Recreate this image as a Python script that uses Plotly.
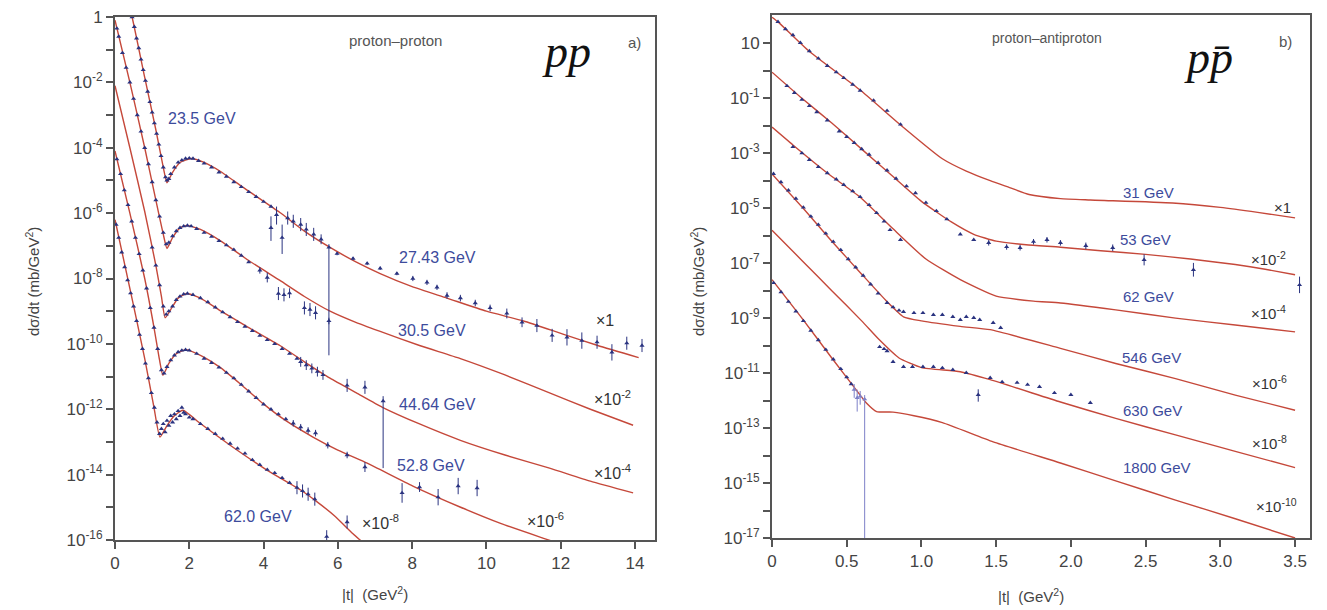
import plotly.graph_objects as go

# ================= DATA (|t| in GeV^2, values are log10 of dσ/dt) =================
# ---- Panel a) proton-proton : model curves ----
pp1_mod_t = [0, 0.2, 0.46, 0.8, 1.1, 1.3, 1.4, 1.55, 1.75, 2.05, 2.4, 2.83, 3.5, 4.44, 5.1, 5.79, 6.5, 7.14, 8.0, 8.94, 10.0, 11.0, 12.06, 13.0, 14.1]
pp1_mod_lg = [1.9, 1.1, 0.0, -1.85, -3.45, -4.6, -5.07, -4.75, -4.45, -4.33, -4.45, -4.72, -5.25, -5.98, -6.55, -7.05, -7.5, -7.85, -8.25, -8.6, -9.0, -9.3, -9.7, -10.05, -10.42]
pp2_mod_t = [0, 0.4, 0.8, 1.1, 1.3, 1.4, 1.55, 1.75, 1.95, 2.3, 2.83, 3.6, 4.44, 5.1, 5.79, 6.5, 7.14, 8.2, 9.3, 10.5, 11.7, 12.8, 13.95]
pp2_mod_lg = [-0.1, -2.0, -4.0, -5.6, -6.65, -7.08, -6.75, -6.45, -6.38, -6.5, -6.84, -7.45, -8.06, -8.55, -9.0, -9.35, -9.62, -10.05, -10.45, -10.95, -11.5, -12.0, -12.49]
pp3_mod_t = [0, 0.4, 0.8, 1.1, 1.25, 1.35, 1.5, 1.7, 1.94, 2.3, 2.83, 3.6, 4.44, 5.1, 5.79, 6.5, 7.2, 8.2, 9.3, 10.5, 11.7, 12.8, 13.95]
pp3_mod_lg = [-2.1, -4.0, -5.95, -7.6, -8.55, -9.2, -8.95, -8.6, -8.46, -8.6, -8.98, -9.5, -10.05, -10.55, -11.05, -11.5, -11.94, -12.45, -12.95, -13.4, -13.8, -14.2, -14.56]
pp4_mod_t = [0, 0.4, 0.8, 1.05, 1.2, 1.29, 1.45, 1.65, 1.9, 2.3, 2.83, 3.4, 3.98, 4.6, 5.33, 6.0, 6.79, 8.02, 9.29, 10.4, 11.52, 12.2]
pp4_mod_lg = [-4.1, -6.0, -8.0, -9.5, -10.5, -10.96, -10.6, -10.3, -10.18, -10.35, -10.72, -11.25, -11.82, -12.35, -12.85, -13.25, -13.65, -14.35, -14.99, -15.5, -15.94, -16.2]
pp5_mod_t = [0, 0.4, 0.8, 1.05, 1.21, 1.4, 1.6, 1.83, 2.29, 3.1, 4.09, 5.0, 5.38, 5.9, 6.4, 6.8]
pp5_mod_lg = [-6.2, -8.3, -10.45, -11.95, -12.85, -12.5, -12.2, -12.03, -12.43, -13.1, -13.86, -14.47, -14.78, -15.25, -15.8, -16.2]

# ---- Panel a) data, dense parts ----
pp1_dat_t = [0.46, 0.52, 0.58, 0.64, 0.7, 0.76, 0.82, 0.88, 0.94, 1.0, 1.06, 1.12, 1.18, 1.24, 1.3, 1.36, 1.4, 1.45, 1.5, 1.6, 1.7, 1.8, 1.9, 2.0, 2.1, 2.25, 2.4, 2.6, 2.8, 3.0, 3.2, 3.4, 3.6, 3.8, 4.0, 4.2]
pp1_dat_lg = [0.0, -0.3, -0.65, -0.95, -1.3, -1.62, -1.95, -2.28, -2.6, -2.92, -3.25, -3.57, -3.9, -4.25, -4.6, -4.9, -5.0, -4.95, -4.8, -4.6, -4.45, -4.38, -4.33, -4.32, -4.33, -4.4, -4.48, -4.6, -4.75, -4.88, -5.05, -5.2, -5.35, -5.5, -5.65, -5.8]
pp2_dat_t = [0.05, 0.1, 0.2, 0.3, 0.4, 0.5, 0.6, 0.7, 0.8, 0.9, 1.0, 1.1, 1.2, 1.3, 1.38, 1.45, 1.55, 1.65, 1.75, 1.85, 1.95, 2.05, 2.2, 2.4, 2.6, 2.8, 3.0, 3.2, 3.4, 3.6]
pp2_dat_lg = [-0.35, -0.6, -1.1, -1.55, -2.0, -2.5, -3.0, -3.5, -4.0, -4.5, -5.05, -5.6, -6.1, -6.6, -6.95, -6.9, -6.7, -6.55, -6.45, -6.4, -6.38, -6.4, -6.48, -6.6, -6.72, -6.85, -6.98, -7.12, -7.3, -7.5]
pp3_dat_t = [1.0, 1.1, 1.2, 1.3, 1.38, 1.45, 1.55, 1.65, 1.75, 1.85, 1.95, 2.1, 2.3, 2.5, 2.7, 2.9, 3.1, 3.3, 3.5, 3.7, 3.9, 4.1, 4.3, 4.5, 4.7, 4.9]
pp3_dat_lg = [-7.05, -7.6, -8.2, -8.85, -9.1, -9.0, -8.85, -8.65, -8.55, -8.48, -8.46, -8.5, -8.6, -8.72, -8.88, -9.03, -9.18, -9.33, -9.47, -9.6, -9.75, -9.88, -10.0, -10.15, -10.3, -10.45]
pp4_dat_t = [0.05, 0.15, 0.25, 0.35, 0.45, 0.55, 0.65, 0.75, 0.85, 0.95, 1.05, 1.15, 1.25, 1.32, 1.4, 1.5, 1.6, 1.7, 1.8, 1.9, 2.0, 2.2, 2.4, 2.6, 2.8, 3.0, 3.2, 3.4, 3.6, 3.8, 4.0, 4.2, 4.4, 4.6]
pp4_dat_lg = [-4.35, -4.8, -5.3, -5.75, -6.25, -6.75, -7.25, -7.75, -8.3, -8.9, -9.5, -10.15, -10.8, -10.9, -10.7, -10.5, -10.35, -10.25, -10.2, -10.18, -10.2, -10.3, -10.45, -10.58, -10.72, -10.88, -11.05, -11.25, -11.45, -11.65, -11.85, -12.0, -12.15, -12.3]
pp5_dat_t = [0.03, 0.1, 0.18, 0.26, 0.34, 0.42, 0.5, 0.58, 0.66, 0.74, 0.82, 0.9, 0.98, 1.06, 1.13, 1.2, 1.25, 1.3, 1.35, 1.4, 1.45, 1.5, 1.55, 1.6, 1.65, 1.7, 1.75, 1.8, 1.85, 1.9, 2.0, 2.1, 2.3, 2.5, 2.7, 2.9, 3.1, 3.3, 3.5, 3.7, 3.9, 4.1, 4.3, 4.5, 4.7]
pp5_dat_lg = [-6.35, -6.75, -7.2, -7.65, -8.05, -8.45, -8.85, -9.3, -9.72, -10.15, -10.6, -11.05, -11.5, -11.95, -12.4, -12.75, -12.6, -12.45, -12.7, -12.35, -12.5, -12.2, -12.4, -12.15, -12.3, -12.05, -12.2, -11.95, -12.1, -12.15, -12.25, -12.3, -12.45, -12.6, -12.75, -12.9, -13.05, -13.2, -13.35, -13.55, -13.7, -13.85, -13.95, -14.1, -14.25]

# ---- Panel a) data with error bars (half-lengths in decades) ----
pp1_err_t = [4.2, 4.35, 4.5, 4.65, 4.8, 5.0, 5.15, 5.35, 5.55, 5.76, 5.98, 6.41, 6.79, 7.14, 7.59, 8.02, 8.4, 8.67, 8.94, 9.3, 9.7, 10.1, 10.55, 10.96, 11.36, 11.77, 12.17, 12.57, 12.98, 13.38, 13.78, 14.19]
pp1_err_lg = [-6.45, -6.05, -6.75, -6.15, -6.25, -6.35, -6.5, -6.65, -6.8, -7.05, -7.24, -7.39, -7.54, -7.69, -7.85, -8.0, -8.12, -8.27, -8.52, -8.6, -8.75, -8.9, -9.07, -9.34, -9.44, -9.74, -9.8, -9.9, -9.95, -10.26, -9.98, -10.05]
pp1_err_up = [0.35, 0.25, 0.4, 0.2, 0.2, 0.2, 0.2, 0.2, 0.15, 0.1, 0.05, 0.05, 0.05, 0.05, 0.05, 0.08, 0.08, 0.08, 0.1, 0.1, 0.1, 0.1, 0.15, 0.15, 0.2, 0.2, 0.25, 0.25, 0.2, 0.25, 0.2, 0.2]
pp1_err_dn = [0.4, 0.3, 0.5, 0.2, 0.2, 0.2, 0.2, 0.2, 0.15, 3.3, 0.05, 0.05, 0.05, 0.05, 0.05, 0.08, 0.08, 0.08, 0.1, 0.1, 0.1, 0.1, 0.15, 0.15, 0.2, 0.2, 0.25, 0.25, 0.2, 0.25, 0.2, 0.2]
pp2_err_t = [3.9, 4.1, 4.4, 4.55, 4.7, 5.1, 5.25, 5.4, 5.76]
pp2_err_lg = [-7.75, -7.97, -8.46, -8.5, -8.45, -8.9, -8.95, -9.05, -9.3]
pp2_err_up = [0.1, 0.15, 0.2, 0.2, 0.15, 0.2, 0.2, 0.2, 0.1]
pp2_err_dn = [0.1, 0.15, 0.2, 0.2, 0.15, 0.2, 0.2, 0.2, 0.1]
pp3_err_t = [5.0, 5.15, 5.3, 5.45, 5.6, 6.25, 6.73, 7.22]
pp3_err_lg = [-10.55, -10.65, -10.75, -10.85, -10.95, -11.27, -11.33, -11.75]
pp3_err_up = [0.15, 0.15, 0.15, 0.15, 0.15, 0.2, 0.2, 0.15]
pp3_err_dn = [0.15, 0.15, 0.15, 0.15, 0.15, 0.2, 0.2, 2.05]
pp4_err_t = [4.8, 5.0, 5.2, 5.4, 5.73, 6.25, 6.73, 7.73, 8.2, 8.7, 9.24, 9.75]
pp4_err_lg = [-12.43, -12.55, -12.65, -12.73, -13.1, -13.4, -13.77, -14.56, -14.38, -14.69, -14.35, -14.41]
pp4_err_up = [0.1, 0.1, 0.1, 0.1, 0.1, 0.1, 0.15, 0.3, 0.15, 0.25, 0.25, 0.25]
pp4_err_dn = [0.1, 0.1, 0.1, 0.1, 0.1, 0.1, 0.15, 0.3, 0.15, 0.25, 0.25, 0.25]
pp5_err_t = [4.9, 5.05, 5.2, 5.38, 5.7, 6.25]
pp5_err_lg = [-14.4, -14.5, -14.6, -14.75, -15.9, -15.45]
pp5_err_up = [0.2, 0.2, 0.2, 0.2, 0.2, 0.2]
pp5_err_dn = [0.2, 0.2, 0.2, 0.2, 0.2, 0.2]

# ---- Panel b) proton-antiproton : model curves ----
pb31_mod_t = [0, 0.04, 0.25, 0.59, 0.86, 1.14, 1.3, 1.46, 1.59, 1.72, 1.93, 2.13, 2.68, 3.0, 3.25, 3.5]
pb31_mod_lg = [1.95, 1.78, 0.7, -0.7, -1.97, -3.2, -3.65, -4.0, -4.25, -4.5, -4.65, -4.7, -4.81, -4.97, -5.15, -5.35]
pb53_mod_t = [0, 0.2, 0.4, 0.6, 0.8, 1.0, 1.2, 1.35, 1.5, 1.7, 1.93, 2.2, 2.5, 2.8, 3.1, 3.3, 3.5]
pb53_mod_lg = [-0.05, -1.0, -1.9, -2.85, -3.8, -4.75, -5.5, -5.95, -6.2, -6.33, -6.42, -6.55, -6.68, -6.85, -7.05, -7.22, -7.42]
pb62_mod_t = [0, 0.14, 0.37, 0.59, 0.81, 1.03, 1.26, 1.5, 1.75, 1.93, 2.3, 2.7, 3.1, 3.5]
pb62_mod_lg = [-2.05, -2.7, -3.72, -4.6, -5.75, -6.85, -7.6, -8.2, -8.38, -8.45, -8.7, -9.0, -9.25, -9.5]
pb546_mod_t = [0, 0.2, 0.4, 0.6, 0.77, 0.88, 1.0, 1.26, 1.46, 1.93, 2.3, 2.7, 3.1, 3.5]
pb546_mod_lg = [-3.75, -4.95, -6.2, -7.4, -8.4, -8.95, -9.1, -9.3, -9.42, -10.1, -10.65, -11.2, -11.8, -12.35]
pb630_mod_t = [0, 0.2, 0.4, 0.6, 0.72, 0.85, 1.0, 1.26, 1.46, 1.93, 2.3, 2.7, 3.1, 3.5]
pb630_mod_lg = [-5.8, -6.9, -8.0, -9.1, -9.8, -10.45, -10.8, -10.95, -11.24, -12.05, -12.65, -13.25, -13.85, -14.44]
pb1800_mod_t = [0, 0.2, 0.4, 0.59, 0.63, 0.7, 0.81, 0.95, 1.14, 1.48, 1.93, 2.3, 2.7, 3.1, 3.5]
pb1800_mod_lg = [-7.6, -9.0, -10.45, -11.8, -12.08, -12.4, -12.42, -12.55, -12.8, -13.5, -14.27, -14.92, -15.62, -16.3, -17.0]

# ---- Panel b) data, dense parts ----
pb31_dat_t = [0.04, 0.09, 0.14, 0.19, 0.25, 0.31, 0.37, 0.43, 0.48, 0.54, 0.59, 0.68, 0.77, 0.86]
pb31_dat_lg = [1.78, 1.52, 1.3, 1.02, 0.72, 0.45, 0.18, -0.05, -0.26, -0.5, -0.72, -1.08, -1.45, -1.95]
pb53_dat_t = [0.1, 0.15, 0.2, 0.25, 0.3, 0.37, 0.45, 0.5, 0.55, 0.6, 0.65, 0.71, 0.77, 0.83, 0.9, 0.96, 1.03, 1.1, 1.17, 1.26, 1.35]
pb53_dat_lg = [-0.55, -0.8, -1.05, -1.28, -1.5, -1.8, -2.2, -2.4, -2.62, -2.85, -3.05, -3.35, -3.62, -3.92, -4.2, -4.45, -4.8, -5.1, -5.4, -5.95, -6.15]
pb62_dat_t = [0.14, 0.2, 0.25, 0.31, 0.37, 0.43, 0.48, 0.54, 0.59, 0.65, 0.7, 0.75, 0.79, 0.86]
pb62_dat_lg = [-2.77, -3.0, -3.24, -3.5, -3.72, -3.95, -4.15, -4.38, -4.59, -4.88, -5.17, -5.48, -5.79, -6.15]
pb546_dat_t = [0.01, 0.06, 0.11, 0.16, 0.21, 0.26, 0.31, 0.36, 0.41, 0.46, 0.51, 0.56, 0.61, 0.66, 0.71, 0.77, 0.81, 0.85, 0.88, 0.95, 1.01, 1.08, 1.14, 1.21, 1.26, 1.3, 1.35, 1.39, 1.48, 1.53]
pb546_dat_lg = [-3.75, -4.05, -4.35, -4.65, -4.97, -5.3, -5.6, -5.92, -6.22, -6.52, -6.85, -7.15, -7.45, -7.77, -8.1, -8.44, -8.6, -8.72, -8.77, -8.81, -8.81, -8.88, -8.88, -8.95, -9.06, -8.95, -8.99, -9.06, -9.17, -9.35]
pb630_dat_t = [0.72, 0.75, 0.77, 0.81, 0.88, 0.94, 1.01, 1.08, 1.14, 1.21, 1.3, 1.46, 1.54, 1.64, 1.71, 1.79, 1.89, 2.0, 2.13]
pb630_dat_lg = [-10.05, -10.12, -10.2, -10.59, -10.77, -10.77, -10.77, -10.77, -10.81, -10.88, -10.99, -11.17, -11.32, -11.35, -11.42, -11.5, -11.72, -11.79, -12.08]
pb1800_dat_t = [0.01, 0.06, 0.11, 0.16, 0.21, 0.26, 0.31, 0.36, 0.41, 0.46, 0.5, 0.53]
pb1800_dat_lg = [-7.72, -8.05, -8.4, -8.75, -9.1, -9.45, -9.8, -10.15, -10.5, -10.85, -11.15, -11.4]

# ---- Panel b) data with error bars ----
pb53_err_t = [1.45, 1.57, 1.66, 1.75, 1.84, 1.93, 2.1, 2.28, 2.49, 2.82, 3.53]
pb53_err_lg = [-6.26, -6.41, -6.44, -6.22, -6.15, -6.26, -6.37, -6.44, -6.88, -7.24, -7.79]
pb53_err_up = [0.1, 0.1, 0.1, 0.1, 0.1, 0.1, 0.12, 0.12, 0.2, 0.25, 0.3]
pb53_err_dn = [0.1, 0.1, 0.1, 0.1, 0.1, 0.1, 0.12, 0.12, 0.2, 0.25, 0.3]
pb630_err_t = [1.38]
pb630_err_lg = [-11.79]
pb630_err_up = [0.2]
pb630_err_dn = [0.25]
pb1800_err_t = [0.55, 0.57, 0.59, 0.62]
pb1800_err_lg = [-11.6, -11.9, -11.85, -11.95]
pb1800_err_up = [0.2, 0.3, 0.2, 0.15]
pb1800_err_dn = [0.3, 0.5, 0.3, 5.5]

# ---- Tick labels ----
pp_x_ticks = [0, 2, 4, 6, 8, 10, 12, 14]
pb_x_ticks = [0, 0.5, 1.0, 1.5, 2.0, 2.5, 3.0, 3.5]
pb_x_text = ["0", "0.5", "1.0", "1.5", "2.0", "2.5", "3.0", "3.5"]
pp_y_major = [0, -2, -4, -6, -8, -10, -12, -14, -16]
pp_y_minor = [-1, -3, -5, -7, -9, -11, -13, -15]
pb_y_major = [1, -1, -3, -5, -7, -9, -11, -13, -15, -17]
pb_y_minor = [0, -2, -4, -6, -8, -10, -12, -14, -16]

# ---- Text labels ----
pp_energy = ["23.5 GeV", "27.43 GeV", "30.5 GeV", "44.64 GeV", "52.8 GeV", "62.0 GeV"]
pp_scale = ["×1", "×10<sup>-2</sup>", "×10<sup>-4</sup>", "×10<sup>-6</sup>", "×10<sup>-8</sup>"]
pb_energy = ["31 GeV", "53 GeV", "62 GeV", "546 GeV", "630 GeV", "1800 GeV"]
pb_scale = ["×1", "×10<sup>-2</sup>", "×10<sup>-4</sup>", "×10<sup>-6</sup>", "×10<sup>-8</sup>", "×10<sup>-10</sup>"]

# ================= FIGURE =================
W, H = 1327, 610
OX, OY = 8, 8          # the page body adds an 8 px offset; positions below are screen pixels
RED = "#c5483a"
NAVY = "#2a3380"
LAV = "#7d80c8"
FONT = "Liberation Sans, Arial, sans-serif"


def fx(px):
    return (px - OX) / W


def fy(py):
    return 1 - (py - OY) / H


def val(lg):
    return [10 ** v for v in lg]


def eplus(lg, e):
    return [10 ** (v + d) - 10 ** v for v, d in zip(lg, e)]


def eminus(lg, e):
    return [10 ** v - 10 ** (v - d) for v, d in zip(lg, e)]


fig = go.Figure()


def model(t, lg, ax):
    fig.add_trace(go.Scatter(x=t, y=val(lg), mode="lines", xaxis=ax[0], yaxis=ax[1],
                             line=dict(color=RED, width=1.4, shape="spline", smoothing=0.5),
                             hoverinfo="skip", showlegend=False))


def dense(t, lg, ax, color=NAVY):
    fig.add_trace(go.Scatter(x=t, y=val(lg), mode="markers", xaxis=ax[0], yaxis=ax[1],
                             marker=dict(symbol="triangle-up", size=4.5, color=color),
                             showlegend=False))


def sparse(t, lg, up, dn, ax, color=NAVY):
    fig.add_trace(go.Scatter(x=t, y=val(lg), mode="markers", xaxis=ax[0], yaxis=ax[1],
                             marker=dict(symbol="triangle-up", size=4.5, color=color),
                             error_y=dict(type="data", symmetric=False, array=eplus(lg, up),
                                          arrayminus=eminus(lg, dn), color=color,
                                          thickness=1, width=0),
                             showlegend=False))


A = ("x", "y")
B = ("x2", "y2")

for t, lg in [(pp1_mod_t, pp1_mod_lg), (pp2_mod_t, pp2_mod_lg), (pp3_mod_t, pp3_mod_lg),
              (pp4_mod_t, pp4_mod_lg), (pp5_mod_t, pp5_mod_lg)]:
    model(t, lg, A)
for t, lg in [(pp1_dat_t, pp1_dat_lg), (pp2_dat_t, pp2_dat_lg), (pp3_dat_t, pp3_dat_lg),
              (pp4_dat_t, pp4_dat_lg), (pp5_dat_t, pp5_dat_lg)]:
    dense(t, lg, A)
for t, lg, u, d in [(pp1_err_t, pp1_err_lg, pp1_err_up, pp1_err_dn),
                    (pp2_err_t, pp2_err_lg, pp2_err_up, pp2_err_dn),
                    (pp3_err_t, pp3_err_lg, pp3_err_up, pp3_err_dn),
                    (pp4_err_t, pp4_err_lg, pp4_err_up, pp4_err_dn),
                    (pp5_err_t, pp5_err_lg, pp5_err_up, pp5_err_dn)]:
    sparse(t, lg, u, d, A)

for t, lg in [(pb31_mod_t, pb31_mod_lg), (pb53_mod_t, pb53_mod_lg), (pb62_mod_t, pb62_mod_lg),
              (pb546_mod_t, pb546_mod_lg), (pb630_mod_t, pb630_mod_lg), (pb1800_mod_t, pb1800_mod_lg)]:
    model(t, lg, B)
for t, lg in [(pb31_dat_t, pb31_dat_lg), (pb53_dat_t, pb53_dat_lg), (pb62_dat_t, pb62_dat_lg),
              (pb546_dat_t, pb546_dat_lg), (pb630_dat_t, pb630_dat_lg), (pb1800_dat_t, pb1800_dat_lg)]:
    dense(t, lg, B)
sparse(pb53_err_t, pb53_err_lg, pb53_err_up, pb53_err_dn, B)
sparse(pb630_err_t, pb630_err_lg, pb630_err_up, pb630_err_dn, B)
sparse(pb1800_err_t, pb1800_err_lg, pb1800_err_up, pb1800_err_dn, B, color=LAV)


def ytext(exps):
    out = []
    for e in exps:
        if e == 0:
            out.append("1")
        elif e == 1:
            out.append("10")
        else:
            out.append("10<sup>%d</sup>" % e)
    return out


axis_common = dict(showline=True, mirror=True, linecolor="#555555", linewidth=2,
                   showgrid=False, zeroline=False, ticks="outside", ticklen=7,
                   tickwidth=1.5, tickcolor="#555555", automargin=False,
                   ticklabeloverflow="allow",
                   tickfont=dict(family=FONT, size=17, color="#444444"))
minor_common = dict(ticks="outside", ticklen=7, tickwidth=1.5, tickcolor="#555555", showgrid=False)

fig.update_layout(
    width=W, height=H, autosize=False,
    margin=dict(l=0, r=0, t=0, b=0, pad=0, autoexpand=False),
    paper_bgcolor="white", plot_bgcolor="white",
    font=dict(family=FONT, color="#444444"),
    showlegend=False,
    xaxis=dict(domain=[fx(115), fx(655)], range=[0, 14.54], anchor="y",
               tickvals=pp_x_ticks, ticktext=[str(v) for v in pp_x_ticks], **axis_common),
    yaxis=dict(domain=[fy(540), fy(17)], type="log", range=[-16, 0], anchor="x",
               tickvals=[10 ** e for e in pp_y_major], ticktext=ytext(pp_y_major),
               minor=dict(tickvals=[10 ** e for e in pp_y_minor], **minor_common), **axis_common),
    xaxis2=dict(domain=[fx(772), fx(1310)], range=[0, 3.6], anchor="y2",
                tickvals=pb_x_ticks, ticktext=pb_x_text, **axis_common),
    yaxis2=dict(domain=[fy(538), fy(15)], type="log", range=[-17, 2.03], anchor="x2",
                tickvals=[10 ** e for e in pb_y_major], ticktext=ytext(pb_y_major),
                minor=dict(tickvals=[10 ** e for e in pb_y_minor], **minor_common), **axis_common),
)

BLUE_TXT = "#3d4b9c"


def label(text, px, py, size=16, color=BLUE_TXT, family=FONT, angle=0, italic=False):
    if italic:
        text = "<i>" + text + "</i>"
    fig.add_annotation(text=text, x=fx(px), y=fy(py), xref="paper", yref="paper",
                       xanchor="center", yanchor="middle", showarrow=False,
                       textangle=angle, font=dict(family=family, size=size, color=color))


# panel a labels
pp_energy_pos = [(202, 119), (438, 257), (432, 330), (437, 404), (431, 465), (258, 516)]
for txt, (px, py) in zip(pp_energy, pp_energy_pos):
    label(txt, px, py, size=16)
pp_scale_pos = [(605, 320), (612, 398), (612, 472), (545, 520), (380, 522)]
for txt, (px, py) in zip(pp_scale, pp_scale_pos):
    label(txt, px, py, size=16, color="#333333")
label("proton–proton", 395, 40, size=15, color="#555555")
label("a)", 634, 43, size=15, color="#555555")
label("pp", 566, 52, size=46, color="#111111", family="Liberation Serif, serif", italic=True)
label("dσ/dt (mb/GeV<sup>2</sup>)", 32, 282, size=15, color="#444444", angle=-90)
label("|t|  (GeV<sup>2</sup>)", 375, 593, size=15, color="#444444")

# panel b labels
pb_energy_pos = [(1148, 192), (1145, 240), (1148, 296), (1151, 357), (1152, 410), (1157, 468)]
for txt, (px, py) in zip(pb_energy, pb_energy_pos):
    label(txt, px, py, size=15)
pb_scale_pos = [(1282, 208), (1268, 258), (1268, 312), (1269, 382), (1269, 442), (1276, 505)]
for txt, (px, py) in zip(pb_scale, pb_scale_pos):
    label(txt, px, py, size=15, color="#333333")
label("proton–antiproton", 1047, 38, size=14, color="#555555")
label("b)", 1285, 42, size=15, color="#555555")
label("pp\u0304", 1208, 57, size=46, color="#111111", family="Liberation Serif, serif", italic=True)
label("dσ/dt (mb/GeV<sup>2</sup>)", 697, 282, size=15, color="#444444", angle=-90)
label("|t|  (GeV<sup>2</sup>)", 1031, 595, size=15, color="#444444")

fig.write_html("out.html")
